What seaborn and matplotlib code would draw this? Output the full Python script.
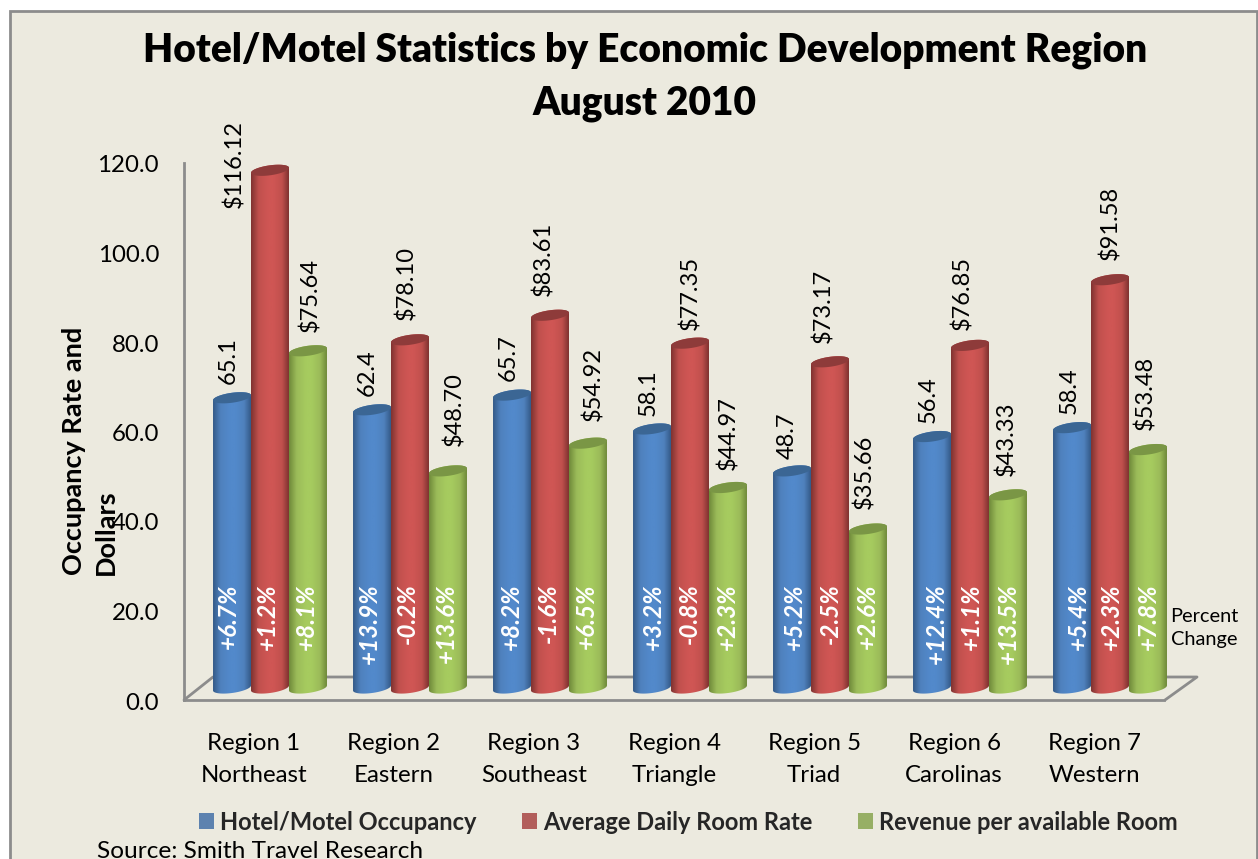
import numpy as np
import pandas as pd
import matplotlib
matplotlib.use("Agg")
import matplotlib.pyplot as plt
import seaborn as sns
from matplotlib.patches import Rectangle, PathPatch, Polygon
from matplotlib.path import Path
from matplotlib.colors import LinearSegmentedColormap
from matplotlib.lines import Line2D
from matplotlib.transforms import ScaledTranslation

regions = ["Region 1\nNortheast", "Region 2\nEastern", "Region 3\nSoutheast", "Region 4\nTriangle",
           "Region 5\nTriad", "Region 6\nCarolinas", "Region 7\nWestern"]
series = ["Hotel/Motel Occupancy", "Average Daily Room Rate", "Revenue per available Room"]
occupancy = [65.1, 62.4, 65.7, 58.1, 48.7, 56.4, 58.4]
room_rate = [116.12, 78.10, 83.61, 77.35, 73.17, 76.85, 91.58]
revenue = [75.64, 48.70, 54.92, 44.97, 35.66, 43.33, 53.48]
occupancy_pct = ["+6.7%", "+13.9%", "+8.2%", "+3.2%", "+5.2%", "+12.4%", "+5.4%"]
room_rate_pct = ["+1.2%", "-0.2%", "-1.6%", "-0.8%", "-2.5%", "+1.1%", "+2.3%"]
revenue_pct = ["+8.1%", "+13.6%", "+6.5%", "+2.3%", "+2.6%", "+13.5%", "+7.8%"]
y_ticks = [0, 20, 40, 60, 80, 100, 120]

# label nudges in pixels, bars top to text / bar centre to text
label_gap_px = [[9, 9, 9, 8, 7, 9, 9],
                [0, 15, 14, 8, 14, 10, 15],
                [14, 20, 17, 13, 15, 14, 15]]
label_dx_px = [[-4, -5, -4, -4, -5, -4, -3],
               [0, -4, -7, 0, -7, -8, 0],
               [2, 6, 5, 0, -4, -2, -3]]

W, H = 1258, 859
BG = "#ECEADF"
GREY = "#8C8C8C"
PX_X = 140  # pixels per category
PX_Y = 4.46  # pixels per unit on the bar plane
base_colors = ["#4F81BD", "#C0504D", "#9BBB59"]
edge_colors = ["#345A88", "#7F3230", "#6F8A3A"]
light_colors = ["#5289CB", "#CF5654", "#A6CB5F"]
cap_colors = ["#3B6694", "#8E3B3A", "#7A9645"]


def rect(left, top, right, bottom):
    # pixel box of the picture -> figure fractions
    return [left / W, 1 - bottom / H, (right - left) / W, (bottom - top) / H]


def fx(x):
    return x / W


def fy(y):
    return 1 - y / H


sns.set_theme(style="white")
plt.rcParams["font.family"] = ["Lato", "DejaVu Sans"]

fig = plt.figure(figsize=(W / 100, H / 100), dpi=100, facecolor="white")
fig.add_artist(Rectangle((fx(9.5), fy(900)), fx(1247), fy(11) - fy(900), transform=fig.transFigure,
                         facecolor=BG, edgecolor=GREY, linewidth=2, zorder=-5))

# front plane: y axis, floor edge, tick labels
ax_front = fig.add_axes(rect(184, 163, 1164, 700), zorder=1)
ax_front.patch.set_visible(False)
ax_front.set_xlim(-0.5, 6.5)
ax_front.set_ylim(0, 120)
ax_front.set_yticks(y_ticks, [f"{v:.1f}" for v in y_ticks], fontsize=17.3, color="black")
ax_front.set_xticks(range(7), regions, fontsize=17.3, color="black", linespacing=1.65)
ax_front.tick_params(axis="x", length=0, pad=24)
ax_front.tick_params(axis="y", length=0, pad=18)
for lbl in ax_front.get_yticklabels():
    lbl.set_transform(lbl.get_transform() + ScaledTranslation(0, -1 / 100, fig.dpi_scale_trans))
sns.despine(ax=ax_front)
for side in ["left", "bottom"]:
    ax_front.spines[side].set_color(GREY)
    ax_front.spines[side].set_linewidth(2)

# floor of the 3D box
floor_x = [184, 213, 1197, 1165]
floor_y = [700, 677, 677, 700]
fig.add_artist(Line2D([fx(v) for v in floor_x], [fy(v) for v in floor_y], color=GREY, linewidth=2,
                      transform=fig.transFigure, zorder=0))

# bars sit on a plane shifted back from the front one
ax = fig.add_axes(rect(200, 153, 1180, 688), zorder=2)
ax.patch.set_visible(False)

df = pd.DataFrame({
    "region": regions * 3,
    "series": np.repeat(series, 7),
    "value": occupancy + room_rate + revenue,
})
sns.barplot(data=df, x="region", y="value", hue="series", palette=base_colors, width=0.814, gap=0,
            dodge=True, ax=ax, legend=True)
ax.set_xlim(-0.5, 6.5)
ax.set_ylim(0, 120)
ax.set_axis_off()
ax.autoscale(False)

cap_b = 5.0 / PX_Y
cap_k = 2.5 / PX_Y
t_low = np.linspace(np.pi, 2 * np.pi, 40)
t_up = np.linspace(0, np.pi, 40)
t_all = np.linspace(0, 2 * np.pi, 80)

all_values = [occupancy, room_rate, revenue]
all_pct = [occupancy_pct, room_rate_pct, revenue_pct]
pct_dx = [(-4, 1.7), (-3, 0.8), (-2, 0.4)]

for s, container in enumerate(ax.containers):
    cmap = LinearSegmentedColormap.from_list(
        "cyl", [(0, edge_colors[s]), (0.2, base_colors[s]), (0.45, light_colors[s]), (0.6, light_colors[s]),
                (0.82, base_colors[s]), (1, edge_colors[s])])
    grad = np.linspace(0, 1, 128).reshape(1, -1)
    for i, bar in enumerate(container):
        x0, w, h = bar.get_x(), bar.get_width(), bar.get_height()
        cx = x0 + w / 2
        a = w / 2
        z = 3 + s * 0.1 + i * 0.001
        bar.set_visible(False)
        # cylinder outline: lower arc of the base, upper arc of the top
        xs = np.r_[cx + a * np.cos(t_low), cx + a * np.cos(t_up)]
        ys = np.r_[cap_b * np.sin(t_low) + cap_k * np.cos(t_low), h + cap_b * np.sin(t_up) + cap_k * np.cos(t_up)]
        im = ax.imshow(grad, extent=[x0, x0 + w, -3, h + 3], aspect="auto", cmap=cmap, zorder=z,
                       interpolation="bilinear")
        clip = PathPatch(Path(np.c_[xs, ys]), transform=ax.transData, facecolor="none", edgecolor="none")
        clip.set_clip_on(False)
        ax.add_patch(clip)
        im.set_clip_path(clip)
        im.set_clip_box(fig.bbox)
        ax.add_patch(Polygon(np.c_[cx + a * np.cos(t_all), h + cap_b * np.sin(t_all) + cap_k * np.cos(t_all)],
                             facecolor=cap_colors[s], edgecolor="none", zorder=z))

        value = all_values[s][i]
        txt = f"{value:.1f}" if s == 0 else f"${value:.2f}"
        if s == 1 and i == 0:
            # tallest bar: label is pushed off to the left of the bar
            ax.text(cx - w * 0.93, h + 1.4, txt, rotation=90, ha="center", va="center", fontsize=17,
                    color="black", clip_on=False, zorder=6)
        else:
            ax.text(cx + label_dx_px[s][i] / PX_X, h + (5 + label_gap_px[s][i]) / PX_Y, txt, rotation=90,
                    ha="center", va="bottom", fontsize=17, color="black", clip_on=False, zorder=6)
        ax.text(cx + (pct_dx[s][0] + pct_dx[s][1] * i) / PX_X, 23.5, all_pct[s][i], rotation=90, ha="center",
                va="top", fontsize=17.5, color="white", fontweight="bold", fontstyle="italic", zorder=6,
                clip_on=False)

handles, labels = ax.get_legend_handles_labels()
for handle in handles:
    handle.set_linewidth(0)
ax.legend(handles, labels, loc="center left", bbox_to_anchor=(fx(199), fy(822)), bbox_transform=fig.transFigure,
          ncol=3, frameon=False, prop={"weight": "bold", "size": 17}, handlelength=0.64, handleheight=0.64,
          handletextpad=0.27, columnspacing=1.9, borderpad=0, borderaxespad=0)

fig.text(0.5125, fy(50), "Hotel/Motel Statistics by Economic Development Region", ha="center", va="center",
         fontsize=28, fontweight="heavy", color="black")
fig.text(0.5125, fy(103), "August 2010", ha="center", va="center", fontsize=28, fontweight="heavy", color="black")
fig.text(fx(90), fy(575), "Occupancy Rate and\nDollars", rotation=90, ha="center", va="bottom", ma="left",
         fontsize=19.5, fontweight="bold", color="black", linespacing=1.42)
fig.text(fx(1204), fy(628), "Percent\nChange", ha="center", va="center", fontsize=14.4, color="black", linespacing=1.4)
fig.text(fx(97), fy(851), "Source: Smith Travel Research", ha="left", va="center", fontsize=17.6, color="black")

fig.savefig("out.png", dpi=100)
